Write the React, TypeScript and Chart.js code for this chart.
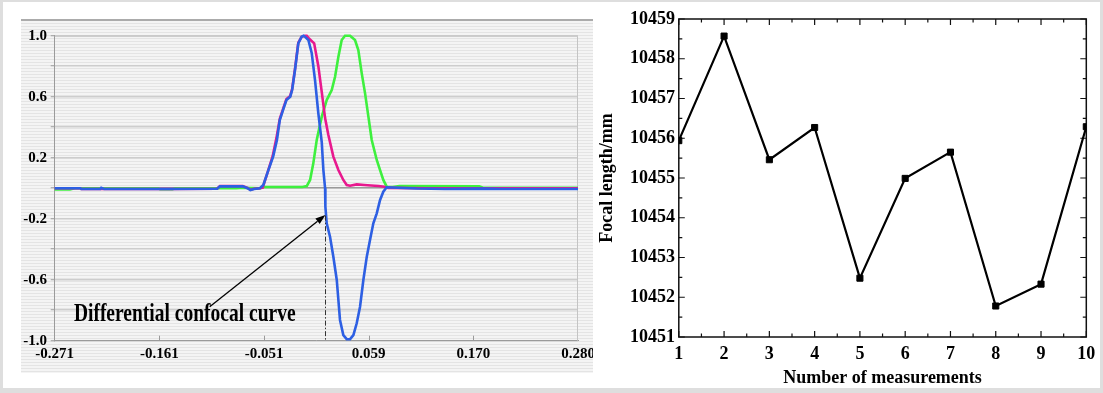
import React, { useEffect, useRef } from 'react';
import { Chart, registerables } from 'chart.js';

Chart.register(...registerables);

const SERIF = "'Liberation Serif', 'Times New Roman', serif";

// ---------- Left chart: confocal response curves ----------
const xAxisMin = -0.271;
const xAxisMax = 0.28;
const xTickLabels = ['-0.271', '-0.161', '-0.051', '0.059', '0.170', '0.280'];
const yGridValues = [-1, -0.8, -0.6, -0.4, -0.2, 0, 0.2, 0.4, 0.6, 0.8, 1];
const yLabelValues = [-1, -0.6, -0.2, 0.2, 0.6, 1];
const yTickLabels = ['-1.0', '-0.6', '-0.2', '0.2', '0.6', '1.0'];

const blueX = [-0.271, -0.244, -0.243, -0.223, -0.222, -0.219, -0.15, -0.1, -0.097, -0.073, -0.068, -0.065, -0.061, -0.055, -0.0513, -0.046, -0.041, -0.037, -0.034, -0.03, -0.027, -0.023, -0.021, -0.018, -0.0145, -0.011, -0.009, -0.0074, -0.0039, -0.0004, 0.0031, 0.0066, 0.0102, 0.0119, 0.0137, 0.014, 0.0154, 0.0189, 0.0224, 0.026, 0.0277, 0.0294, 0.0329, 0.0365, 0.04, 0.0435, 0.047, 0.0505, 0.054, 0.0576, 0.061, 0.0645, 0.0681, 0.0716, 0.075, 0.0786, 0.09, 0.11, 0.14, 0.18, 0.2, 0.28];
const blueY = [0.0, 0.0, -0.005, -0.005, 0.003, -0.005, -0.005, -0.004, 0.012, 0.012, 0.0, -0.012, -0.005, 0.0, 0.021, 0.119, 0.207, 0.316, 0.447, 0.524, 0.578, 0.6, 0.644, 0.775, 0.95, 0.993, 1.0, 0.993, 0.972, 0.887, 0.709, 0.491, 0.3, 0.119, 0.0, -0.121, -0.23, -0.318, -0.449, -0.602, -0.733, -0.864, -0.963, -0.99, -0.99, -0.963, -0.886, -0.777, -0.602, -0.449, -0.34, -0.23, -0.165, -0.077, -0.023, 0.006, 0.003, -0.002, -0.005, -0.003, -0.005, -0.005];

const magentaX = [-0.271, -0.244, -0.243, -0.223, -0.219, -0.15, -0.1, -0.097, -0.073, -0.068, -0.065, -0.061, -0.055, -0.052, -0.047, -0.0415, -0.0375, -0.034, -0.03, -0.027, -0.023, -0.021, -0.018, -0.0145, -0.011, -0.0074, -0.0056, -0.003, 0.0022, 0.0066, 0.0102, 0.0137, 0.0171, 0.0224, 0.0277, 0.0329, 0.0365, 0.04, 0.047, 0.055, 0.062, 0.07, 0.076, 0.08, 0.12, 0.28];
const magentaY = [0.0, 0.0, -0.005, -0.005, -0.005, -0.005, -0.004, 0.014, 0.014, 0.002, -0.01, -0.004, 0.0, 0.004, 0.1, 0.21, 0.33, 0.455, 0.53, 0.585, 0.605, 0.65, 0.78, 0.955, 0.993, 1.0, 1.0, 0.98, 0.95, 0.8, 0.63, 0.46, 0.35, 0.207, 0.119, 0.054, 0.021, 0.016, 0.025, 0.021, 0.018, 0.014, 0.01, 0.002, 0.0, 0.0];

const greenX = [-0.271, -0.255, -0.25, -0.162, -0.16, -0.147, -0.144, -0.08, -0.072, -0.055, -0.051, -0.01, -0.0056, -0.0021, 0.0013, 0.0049, 0.0102, 0.0154, 0.0207, 0.0242, 0.0277, 0.0312, 0.0347, 0.04, 0.0452, 0.0487, 0.0523, 0.0558, 0.0593, 0.0628, 0.0681, 0.0716, 0.075, 0.0786, 0.085, 0.092, 0.176, 0.18, 0.28];
const greenY = [-0.008, -0.008, 0.0, 0.0, -0.007, -0.007, 0.0, 0.0, 0.003, 0.0, 0.008, 0.008, 0.014, 0.054, 0.163, 0.316, 0.469, 0.578, 0.644, 0.731, 0.862, 0.972, 1.0, 1.0, 0.972, 0.906, 0.753, 0.622, 0.469, 0.316, 0.185, 0.119, 0.054, 0.01, 0.008, 0.014, 0.012, 0.003, 0.003];

const annotationText = 'Differential confocal curve';
const annotationPos = [-0.2508, -0.831];
const arrowFrom = [-0.1078, -0.777];
const arrowTo = [0.014, -0.176];
const focusX = 0.014;
const focusTopY = -0.18;

// ---------- Right chart: focal length measurements ----------
const measurementNumbers = [1, 2, 3, 4, 5, 6, 7, 8, 9, 10];
const focalLengths = [10455.94, 10458.57, 10455.46, 10456.27, 10452.48, 10454.99, 10455.65, 10451.78, 10452.33, 10456.29];
const focalMin = 10451;
const focalMax = 10459;

const toPoints = (xs: number[], ys: number[]) => xs.map((x, i) => ({ x, y: ys[i] }));

const leftPlugin = {
  id: 'leftDecor',
  beforeDatasetsDraw(chart: any) {
    const { ctx, chartArea: a, scales } = chart;
    const xs = scales.x;
    ctx.save();
    ctx.lineWidth = 1;
    ctx.strokeStyle = '#c4c4c4';
    ctx.beginPath();
    ctx.moveTo(a.left, a.top + 0.5);
    ctx.lineTo(a.right - 0.5, a.top + 0.5);
    ctx.lineTo(a.right - 0.5, a.bottom);
    ctx.stroke();
    ctx.strokeStyle = '#9a9a9a';
    xs.ticks.forEach((t: any, i: number) => {
      if (i === 0 || i === xs.ticks.length - 1) return;
      const px = Math.round(xs.getPixelForValue(t.value)) + 0.5;
      ctx.beginPath();
      ctx.moveTo(px, a.bottom);
      ctx.lineTo(px, a.bottom - 5);
      ctx.stroke();
    });
    ctx.restore();
  },
  afterDatasetsDraw(chart: any) {
    const { ctx, scales } = chart;
    const xs = scales.x;
    const ys = scales.y;
    ctx.save();
    const fx = Math.round(xs.getPixelForValue(focusX)) + 0.5;
    ctx.strokeStyle = '#333';
    ctx.lineWidth = 1;
    ctx.setLineDash([5, 2, 1.5, 2]);
    ctx.beginPath();
    ctx.moveTo(fx, ys.getPixelForValue(focusTopY));
    ctx.lineTo(fx, ys.getPixelForValue(-1));
    ctx.stroke();
    ctx.setLineDash([]);
    const x1 = xs.getPixelForValue(arrowFrom[0]);
    const y1 = ys.getPixelForValue(arrowFrom[1]);
    const x2 = xs.getPixelForValue(arrowTo[0]);
    const y2 = ys.getPixelForValue(arrowTo[1]);
    const ang = Math.atan2(y2 - y1, x2 - x1);
    const headLen = 10;
    const headW = 3.5;
    const bx = x2 - headLen * Math.cos(ang);
    const by = y2 - headLen * Math.sin(ang);
    ctx.strokeStyle = '#000';
    ctx.fillStyle = '#000';
    ctx.lineWidth = 1.3;
    ctx.beginPath();
    ctx.moveTo(x1, y1);
    ctx.lineTo(bx, by);
    ctx.stroke();
    ctx.beginPath();
    ctx.moveTo(x2, y2);
    ctx.lineTo(bx + headW * Math.sin(ang), by - headW * Math.cos(ang));
    ctx.lineTo(bx - headW * Math.sin(ang), by + headW * Math.cos(ang));
    ctx.closePath();
    ctx.fill();
    const tx = xs.getPixelForValue(annotationPos[0]);
    const ty = ys.getPixelForValue(annotationPos[1]);
    ctx.font = `bold 25px ${SERIF}`;
    ctx.textBaseline = 'middle';
    ctx.textAlign = 'left';
    ctx.translate(tx, ty);
    ctx.scale(0.78, 1);
    ctx.fillText(annotationText, 0, 0);
    ctx.restore();
  },
};

const rightPlugin = {
  id: 'rightFrame',
  beforeDatasetsDraw(chart: any) {
    const { ctx, chartArea: a, scales } = chart;
    const xs = scales.x;
    const ys = scales.y;
    ctx.save();
    ctx.strokeStyle = '#111';
    ctx.lineWidth = 1.5;
    ctx.strokeRect(a.left, a.top, a.right - a.left, a.bottom - a.top);
    ctx.lineWidth = 1.2;
    const xMin = measurementNumbers[0];
    const xMax = measurementNumbers[measurementNumbers.length - 1];
    for (let v = xMin; v <= xMax + 1e-9; v += 0.5) {
      const px = xs.getPixelForValue(v);
      const len = Number.isInteger(v) ? 6 : 3.5;
      ctx.beginPath();
      ctx.moveTo(px, a.bottom);
      ctx.lineTo(px, a.bottom - len);
      ctx.moveTo(px, a.top);
      ctx.lineTo(px, a.top + len);
      ctx.stroke();
    }
    for (let v = focalMin; v <= focalMax + 1e-9; v += 0.5) {
      const py = ys.getPixelForValue(v);
      const len = Number.isInteger(v) ? 6 : 3.5;
      ctx.beginPath();
      ctx.moveTo(a.left, py);
      ctx.lineTo(a.left + len, py);
      ctx.moveTo(a.right, py);
      ctx.lineTo(a.right - len, py);
      ctx.stroke();
    }
    ctx.restore();
  },
};

export default function App() {
  const leftRef = useRef<HTMLCanvasElement>(null);
  const rightRef = useRef<HTMLCanvasElement>(null);

  useEffect(() => {
    const labelFont = { family: SERIF, size: 15, weight: 'bold' as const };
    const left = new Chart(leftRef.current as HTMLCanvasElement, {
      type: 'line',
      data: {
        datasets: [
          { data: toPoints(blueX, blueY), borderColor: '#2d5fe3', borderWidth: 2.6 },
          { data: toPoints(magentaX, magentaY), borderColor: '#e8188e', borderWidth: 2.6 },
          { data: toPoints(greenX, greenY), borderColor: '#3ef03e', borderWidth: 2.6 },
        ],
      },
      options: {
        animation: false,
        responsive: false,
        clip: false as any,
        layout: { padding: { left: 0, top: 14.7, right: 15, bottom: 0 } },
        plugins: { legend: { display: false }, tooltip: { enabled: false } },
        elements: { point: { radius: 0 }, line: { tension: 0 } },
        scales: {
          x: {
            type: 'linear',
            min: xAxisMin,
            max: xAxisMax,
            afterBuildTicks: (s: any) => {
              s.ticks = xTickLabels.map((_, i) => ({
                value: xAxisMin + (i * (xAxisMax - xAxisMin)) / (xTickLabels.length - 1),
              }));
            },
            afterFit: (s: any) => {
              s.height = 32.3;
              s.paddingLeft = 0;
              s.paddingRight = 0;
            },
            ticks: {
              autoSkip: false,
              maxRotation: 0,
              padding: 4.3,
              color: '#000',
              font: labelFont,
              callback: (_v: any, i: number) => xTickLabels[i],
            },
            grid: { display: false, drawTicks: false },
            border: { display: true, color: '#9a9a9a', width: 1 },
          },
          y: {
            type: 'linear',
            min: -1,
            max: 1,
            afterBuildTicks: (s: any) => {
              s.ticks = yGridValues.map((v) => ({ value: v }));
            },
            afterFit: (s: any) => {
              s.width = 33.7;
            },
            ticks: {
              autoSkip: false,
              padding: 3.7,
              color: '#000',
              font: labelFont,
              callback: (v: any) => {
                const i = yLabelValues.findIndex((lv) => Math.abs(lv - Number(v)) < 1e-9);
                return i >= 0 ? yTickLabels[i] : '';
              },
            },
            grid: {
              color: (c: any) => (c.tick && Math.abs(c.tick.value) < 1e-9 ? '#9a9a9a' : '#cdcdcd'),
              lineWidth: 1.5,
              drawTicks: true,
              tickLength: 4,
              tickColor: '#9a9a9a',
              tickWidth: 1,
            },
            border: { display: true, color: '#9a9a9a', width: 1 },
          },
        },
      },
      plugins: [leftPlugin],
    } as any);

    const bigFont = { family: SERIF, size: 18, weight: 'bold' as const };
    const right = new Chart(rightRef.current as HTMLCanvasElement, {
      type: 'line',
      data: {
        datasets: [
          {
            data: toPoints(measurementNumbers, focalLengths),
            borderColor: '#000',
            borderWidth: 2.2,
            pointStyle: 'rect',
            pointRadius: 4.3,
            pointBorderWidth: 1,
            pointBackgroundColor: '#000',
            pointBorderColor: '#000',
            tension: 0,
            clip: 0,
          },
        ],
      },
      options: {
        animation: false,
        responsive: false,
        layout: { padding: { left: 0, top: 19, right: 16.7, bottom: 0 } },
        plugins: { legend: { display: false }, tooltip: { enabled: false } },
        scales: {
          x: {
            type: 'linear',
            min: measurementNumbers[0],
            max: measurementNumbers[measurementNumbers.length - 1],
            afterBuildTicks: (s: any) => {
              s.ticks = measurementNumbers.map((v) => ({ value: v }));
            },
            afterFit: (s: any) => {
              s.height = 56;
              s.paddingLeft = 0;
              s.paddingRight = 0;
            },
            ticks: {
              autoSkip: false,
              maxRotation: 0,
              padding: 6.5,
              color: '#000',
              font: bigFont,
              callback: (v: any) => String(v),
            },
            grid: { display: false, drawTicks: false },
            border: { display: false },
            title: {
              display: true,
              text: 'Number of measurements',
              color: '#000',
              font: bigFont,
              padding: { top: 0, bottom: 4 },
            },
          },
          y: {
            type: 'linear',
            min: focalMin,
            max: focalMax,
            ticks: {
              stepSize: 1,
              autoSkip: false,
              padding: 3.8,
              color: '#000',
              font: bigFont,
              callback: (v: any) => String(v),
            },
            afterFit: (s: any) => {
              s.width = 82.8;
            },
            grid: { display: false, drawTicks: false },
            border: { display: false },
            title: {
              display: true,
              text: 'Focal length/mm',
              color: '#000',
              font: bigFont,
              padding: { top: 0.6, bottom: 0 },
            },
          },
        },
      },
      plugins: [rightPlugin],
    } as any);

    return () => {
      left.destroy();
      right.destroy();
    };
  }, []);

  return (
    <div style={{ position: 'fixed', left: 0, top: 0, width: 1103, height: 393, background: '#fff', overflow: 'hidden' }}>
      <div
        style={{
          position: 'absolute',
          left: 0,
          top: 0,
          width: 1103,
          height: 393,
          boxSizing: 'border-box',
          borderStyle: 'solid',
          borderColor: '#dedede',
          borderWidth: '2px 3px 5px 3px',
        }}
      />
      <div
        style={{
          position: 'absolute',
          left: 21,
          top: 19,
          width: 572,
          height: 354,
          boxSizing: 'border-box',
          borderTop: '2px solid #ababab',
          background: 'repeating-linear-gradient(to bottom, #f4f4f4 0px, #f4f4f4 2px, #e4e4e4 2px, #e4e4e4 3px)',
        }}
      />
      <canvas ref={leftRef} width={572} height={352} style={{ position: 'absolute', left: 21, top: 21, width: 572, height: 352 }} />
      <canvas ref={rightRef} width={507} height={393} style={{ position: 'absolute', left: 596, top: 0, width: 507, height: 393 }} />
    </div>
  );
}
